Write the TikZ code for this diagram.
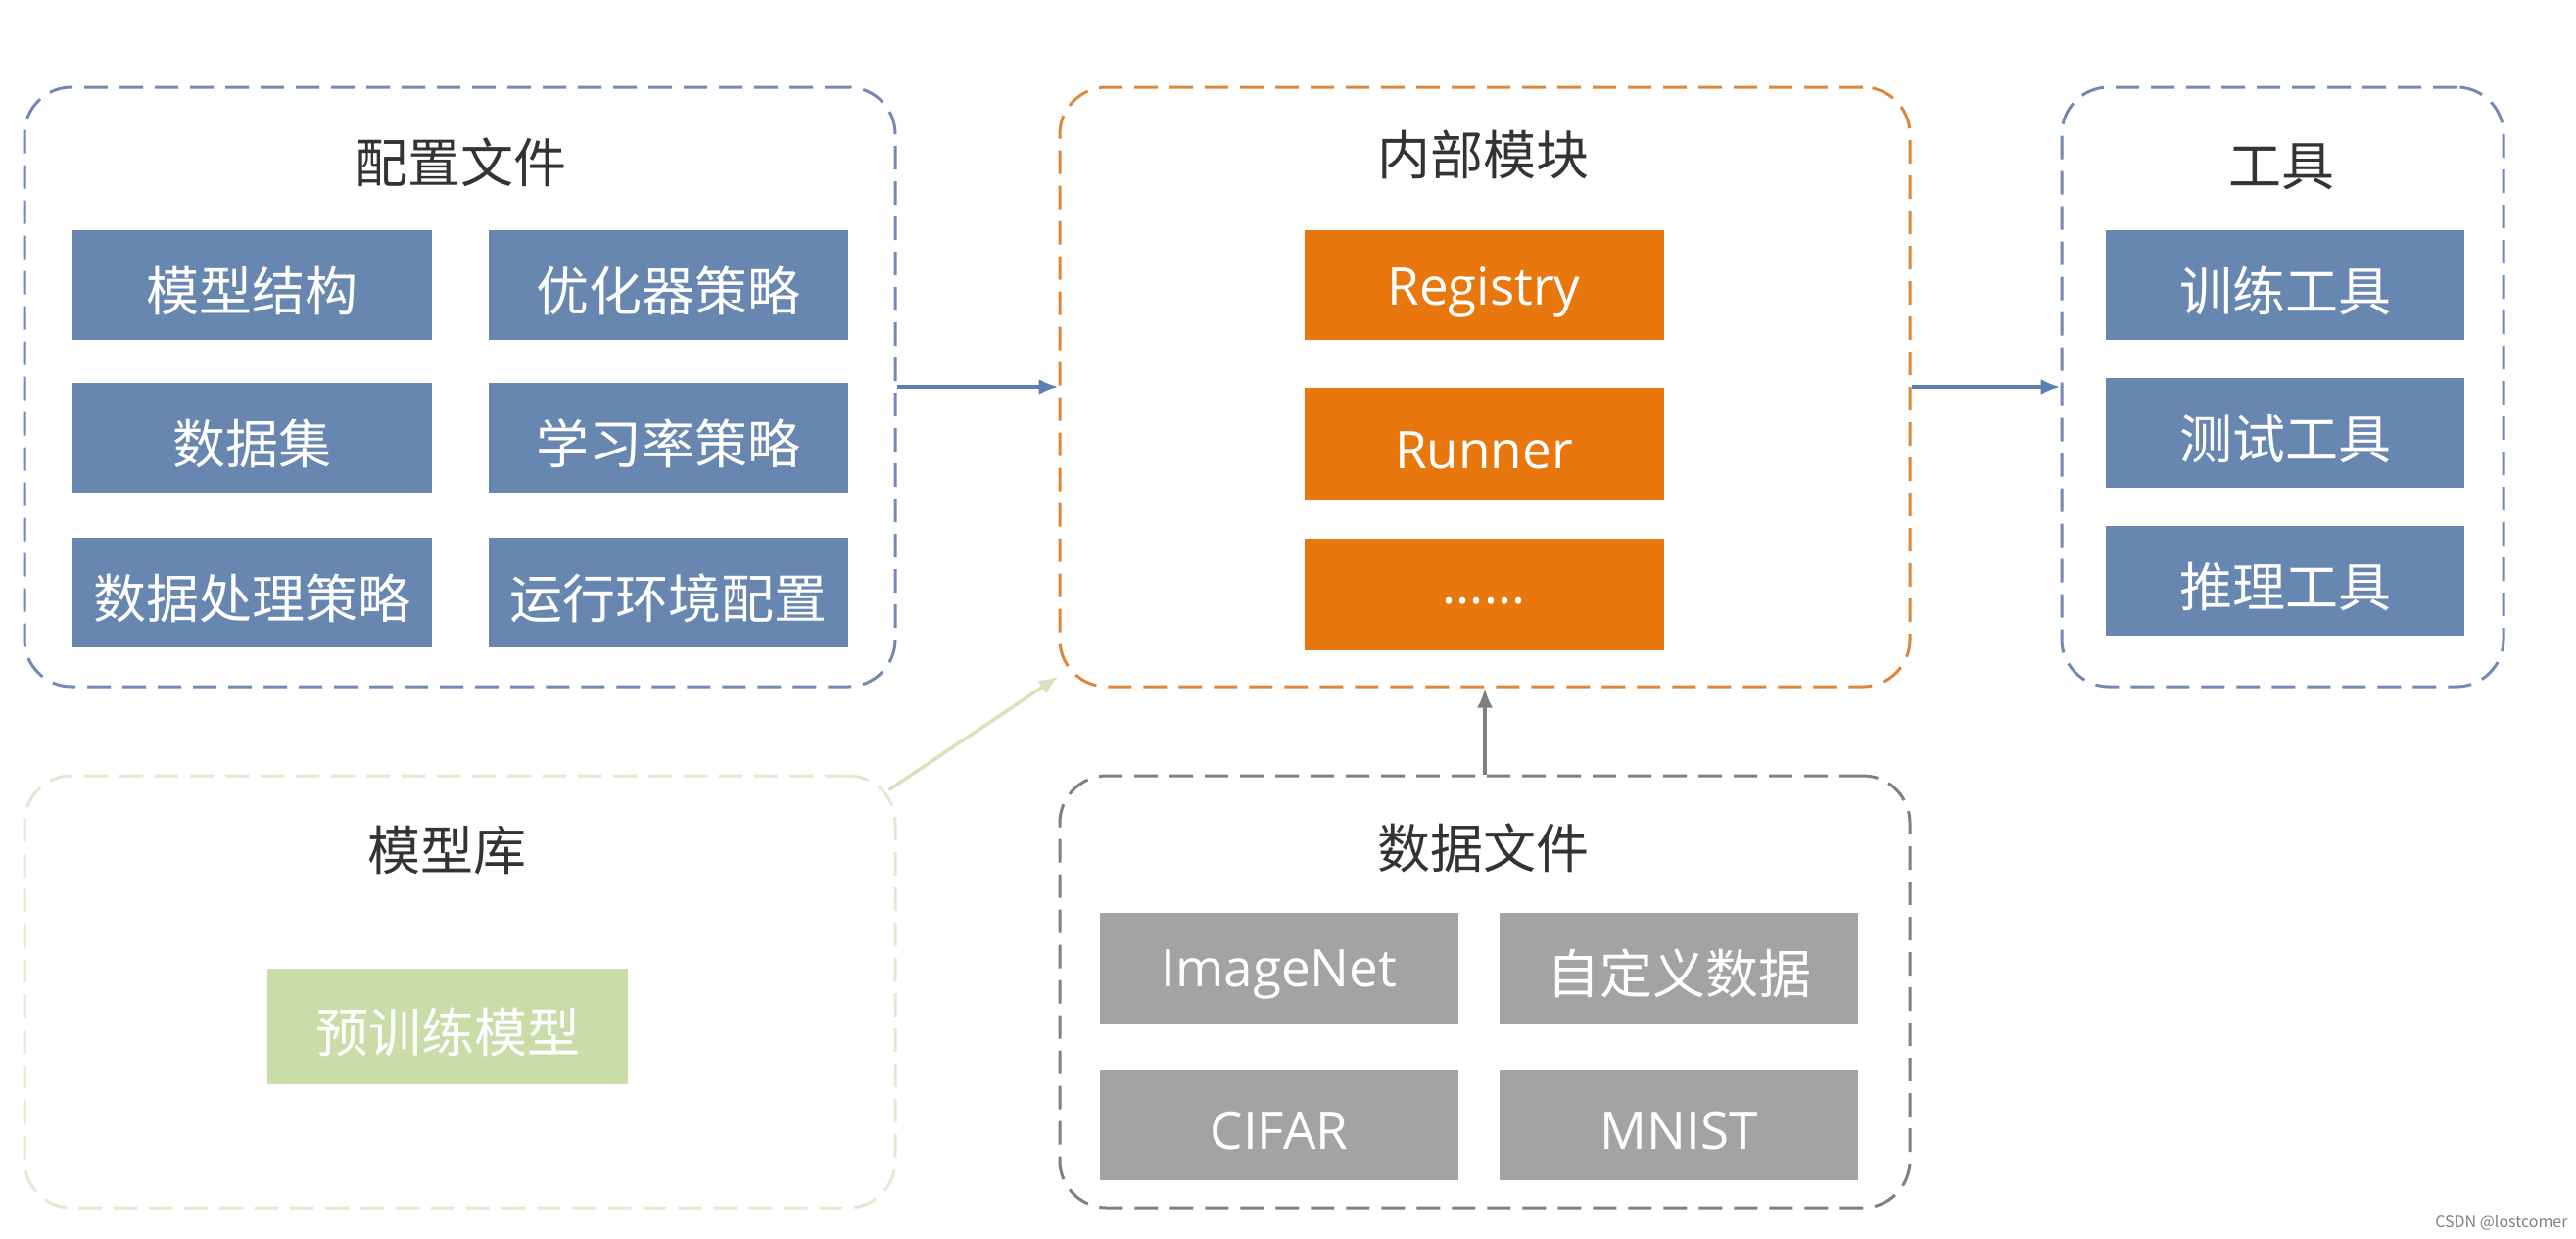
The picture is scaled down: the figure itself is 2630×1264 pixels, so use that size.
\documentclass[tikz,border=0pt]{standalone}
\usepackage{fontspec}
\setmainfont{Noto Sans CJK SC}
\newfontfamily\latinfont{Open Sans}
\usetikzlibrary{arrows.meta,calc}
\definecolor{boxblue}{HTML}{6787B0}
\definecolor{boxorange}{HTML}{E8770E}
\definecolor{boxgrey}{HTML}{A3A3A3}
\definecolor{boxgreen}{HTML}{CADDA9}
\definecolor{bdblue}{HTML}{7388B5}
\definecolor{bdorange}{HTML}{E0863A}
\definecolor{bdgreen}{HTML}{E3EAD3}
\definecolor{bdgrey}{HTML}{808080}
\definecolor{arblue}{HTML}{5B7FB5}
\definecolor{argrey}{HTML}{7F7F7F}
\definecolor{argreen}{HTML}{D8E2BC}
\definecolor{titlecol}{HTML}{333333}
\newcommand\dnt[1]{\raisebox{-6pt}[\height][\depth]{#1}}
\newcommand\dnl[1]{\raisebox{-7pt}[\height][\depth]{#1}}
\tikzset{
  grp/.style={draw, dash pattern=on 24pt off 12pt, line width=3pt, rounded corners=48pt, inner sep=0pt},
  item/.style={fill=#1, text=white, minimum width=367pt, minimum height=112pt, inner sep=0pt, font=\fontsize{54}{64}\selectfont},
  lat/.style={font=\latinfont\fontsize{53}{64}\selectfont},
  ttl/.style={text=titlecol, font=\fontsize{54}{64}\selectfont},
  conn/.style={line width=3.5pt, -{Latex[length=20pt,width=16pt]}}
}
\begin{document}
\begin{tikzpicture}[x=1pt,y=-1pt]
\fill[white] (0,0) rectangle (2630,1264);
\useasboundingbox (0,0) rectangle (2630,1264);
% groups
\node[grp, draw=bdblue, minimum width=889pt, minimum height=612pt] (cfg) at (469.5,395) {};
\node[grp, draw=bdorange, minimum width=868pt, minimum height=612pt] (int) at (1516,395) {};
\node[grp, draw=bdblue, minimum width=451pt, minimum height=612pt] (tool) at (2330.5,395) {};
\node[grp, draw=bdgreen, minimum width=889pt, minimum height=441pt] (lib) at (469.5,1012.5) {};
\node[grp, draw=bdgrey, minimum width=868pt, minimum height=441pt] (data) at (1516,1012.5) {};
% titles
\node[ttl] (cfgt) at (470,166) {配置文件};
\node[ttl] (intt) at (1514,158) {内部模块};
\node[ttl] (toolt) at (2329,170) {工具};
\node[ttl] (libt) at (456,868) {模型库};
\node[ttl] (datat) at (1514,866) {数据文件};
% config items
\node[item=boxblue] (c1) at (257,291) {\dnt{模型结构}};
\node[item=boxblue] (c2) at (682,291) {\dnt{优化器策略}};
\node[item=boxblue] (c3) at (257,447) {\dnt{数据集}};
\node[item=boxblue] (c4) at (682,447) {\dnt{学习率策略}};
\node[item=boxblue] (c5) at (257,605) {\dnt{数据处理策略}};
\node[item=boxblue] (c6) at (682,605) {\dnt{运行环境配置}};
% internal
\node[item=boxorange, lat] (i1) at (1515,291) {\dnl{Registry}};
\node[item=boxorange, lat, minimum height=114pt] (i2) at (1515,453) {\dnl{Runner}};
\node[item=boxorange, lat, minimum height=114pt] (i3) at (1515,607) {\dnl{......}};
% tools
\node[item=boxblue, minimum width=366pt] (t1) at (2333,291) {\dnt{训练工具}};
\node[item=boxblue, minimum width=366pt] (t2) at (2333,442) {\dnt{测试工具}};
\node[item=boxblue, minimum width=366pt] (t3) at (2333,593) {\dnt{推理工具}};
% model lib
\node[item=boxgreen, minimum width=368pt, minimum height=118pt] (l1) at (457,1048) {\dnt{预训练模型}};
% data
\node[item=boxgrey, lat, minimum width=366pt, minimum height=113pt] (d1) at (1306,988) {\dnl{ImageNet}};
\node[item=boxgrey, minimum width=366pt, minimum height=113pt] (d2) at (1714,988) {\dnt{自定义数据}};
\node[item=boxgrey, lat, minimum width=366pt, minimum height=113pt] (d3) at (1306,1148) {\dnl{CIFAR}};
\node[item=boxgrey, lat, minimum width=366pt, minimum height=113pt] (d4) at (1714,1148) {\dnl{MNIST}};
% connectors
\draw[conn, draw=arblue, fill=arblue] (cfg) -- (int);
\draw[conn, draw=arblue, fill=arblue] (int) -- (tool);
\draw[conn, draw=argrey, fill=argrey] (data) -- (int);
\coordinate (libc) at ($(lib.north east)+(-8,16)$);
\coordinate (intc) at ($(int.south west)+(0,-12)$);
\draw[conn, draw=argreen, fill=argreen] (libc) -- (intc);
% watermark
\node[text=gray, font=\fontsize{16}{18}\selectfont, anchor=south east] (wm) at (2625,1260) {CSDN @lostcomer};
\end{tikzpicture}
\end{document}
